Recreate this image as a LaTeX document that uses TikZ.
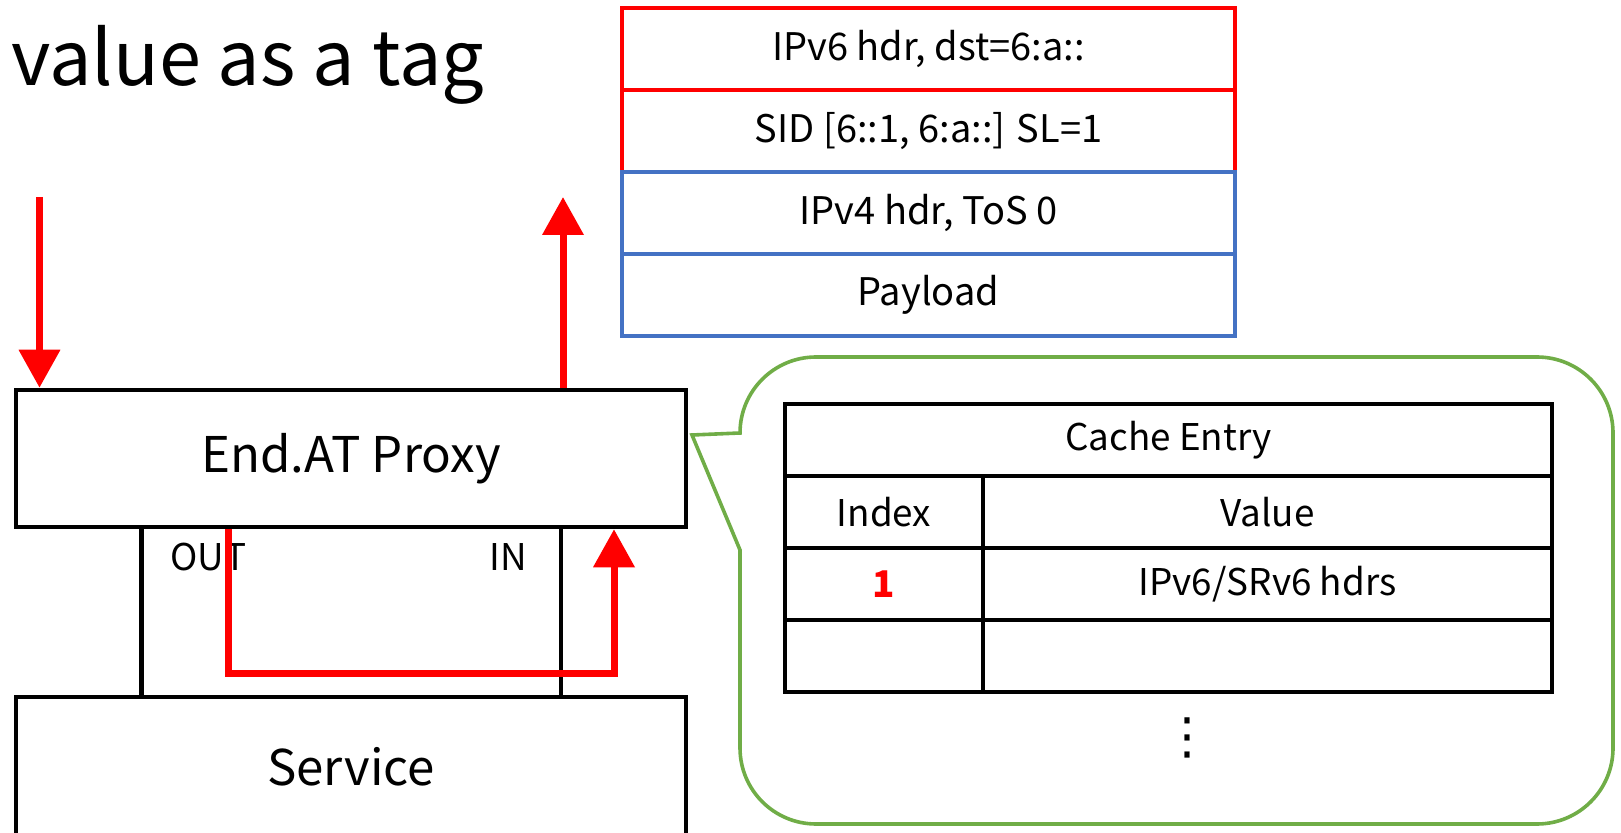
\documentclass[tikz,border=0pt]{standalone}
\usepackage{fontspec}
\setmainfont{Noto Sans CJK JP}
\newfontfamily\dotsfont{DejaVu Sans}
\usetikzlibrary{positioning,arrows.meta}
\definecolor{hdrblue}{RGB}{68,114,196}
\definecolor{bubblegreen}{RGB}{112,173,71}

\begin{document}
\begin{tikzpicture}[
    x=0.5pt, y=-0.5pt,
    block/.style={%
      draw,
      rectangle,
      line width=2.25pt,
      minimum width=335pt,
      font=\fontsize{24.6pt}{30pt}\selectfont,
    },
    port/.style={%
      inner sep=0pt,
      font=\fontsize{18.4pt}{22pt}\selectfont,
    },
    layer/.style={%
      draw,
      rectangle,
      line width=2pt,
      minimum width=306.5pt,
      minimum height=41pt,
      outer sep=0pt,
      font=\fontsize{19pt}{23pt}\selectfont,
    },
    cell/.style={%
      draw,
      rectangle,
      line width=2.2pt,
      minimum height=36pt,
      outer sep=0pt,
      font=\fontsize{18.4pt}{22pt}\selectfont,
    },
    idxcol/.style={cell, minimum width=99pt},
    valcol/.style={cell, minimum width=284.5pt},
    flow/.style={%
      draw=red,
      line width=3.5pt,
      -{Triangle[length=19pt,width=20pt]},
    },
    link/.style={%
      draw,
      line width=2.2pt,
    },
  ]

    \useasboundingbox (0,0) rectangle (1621,833);

    \node [anchor=base west, inner sep=0pt, font=\fontsize{37.8pt}{45pt}\selectfont] (title) at (11,86) {value as a tag};

    \node [block, minimum height=68.5pt] (proxy) at (351,458.5) {End.AT Proxy};
    \node [block, minimum height=70pt] (service) at (351,767) {Service};

    \coordinate (outside) at (141.5,600);
    \coordinate (inside) at (561,600);
    \draw [link] (proxy.south -| outside) -- (service.north -| outside);
    \draw [link] (proxy.south -| inside) -- (service.north -| inside);

    \node [port, anchor=base west] (out) at (170,570) {OUT};
    \node [port, anchor=base east] (in) at (527,570) {IN};

    \coordinate (src) at (39.5,197);
    \coordinate (dst) at (563,197);
    \coordinate (turn) at (614,673);
    \draw [flow] (src) -- (proxy.north -| src);
    \draw [flow] (proxy.north -| dst) -- (dst);
    \draw [flow] (proxy.south -| 228,0) |- (turn) -- (proxy.south -| turn);

    \node [layer, draw=red, anchor=north west] (v6) at (622,8) {IPv6 hdr, dst=6:a::};
    \node [layer, draw=red, below=0pt of v6] (srh) {SID [6::1, 6:a::] SL=1};
    \node [layer, draw=hdrblue, below=0pt of srh] (v4) {IPv4 hdr, ToS 0};
    \node [layer, draw=hdrblue, below=0pt of v4] (payload) {Payload};

    \draw [draw=bubblegreen, line width=1.8pt] (740,433) -- (692,435) -- (740,550) -- (740,748)
      arc[start angle=180, end angle=90, radius=76] -- (1537,824)
      arc[start angle=90, end angle=0, radius=76] -- (1613,433)
      arc[start angle=0, end angle=-90, radius=76] -- (816,357)
      arc[start angle=270, end angle=180, radius=76] -- cycle;

    \node [cell, minimum width=383.5pt, anchor=north west] (entry) at (785,404) {Cache Entry};
    \node [idxcol, anchor=north west] (idxhead) at (entry.south west) {Index};
    \node [valcol, anchor=north west] (valhead) at (idxhead.north east) {Value};
    \node [idxcol, anchor=north west, text=red, font=\fontsize{18.4pt}{22pt}\selectfont\bfseries] (idx1) at (idxhead.south west) {1};
    \node [valcol, anchor=north west] (val1) at (idx1.north east) {IPv6/SRv6 hdrs};
    \node [idxcol, anchor=north west] (idx2) at (idx1.south west) {};
    \node [valcol, anchor=north west] (val2) at (idx2.north east) {};
    \node [font=\dotsfont\fontsize{25pt}{30pt}\selectfont] (more) at (1187,738) {⋮};

\end{tikzpicture}
\end{document}
